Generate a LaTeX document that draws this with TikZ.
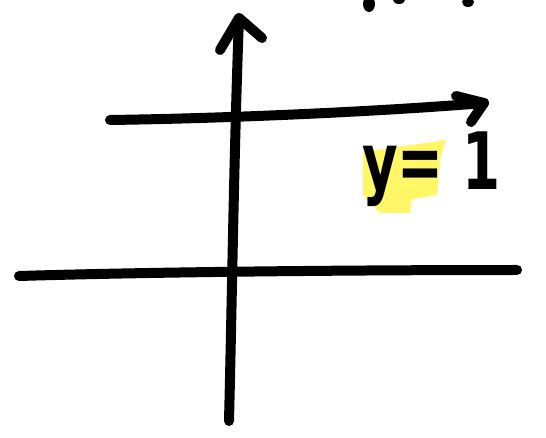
\documentclass[tikz,border=0pt]{standalone}
\usepackage{fontspec}
\newfontfamily\handfont{DejaVu Sans}
\tikzset{
  pen/.style={line width=10pt, line cap=round, line join=round, black},
  hilite/.style={fill=yellow!60, draw=none},
  blob/.style={fill=black, draw=none},
  label/.style={font=\handfont\bfseries\fontsize{72}{72}\selectfont, inner sep=0pt, xscale=0.76, yscale=1.1}
}
\begin{document}
\begin{tikzpicture}[x=1pt,y=-1pt]
\useasboundingbox (0,0) rectangle (546,438);
% yellow highlight
\fill[hilite] (363,152) -- (446,140) -- (440,160) -- (437,195) -- (412,199) -- (410,213) -- (380,213) -- (363,195) -- cycle;
% cut-off marks at top
\fill[blob] (369,4) ellipse (6 and 8);
\fill[blob] (399,0) ellipse (6 and 4);
\fill[blob] (468,2) ellipse (6 and 5);
% vertical axis
\coordinate (vbot) at (229,421);
\coordinate (vtop) at (239,18);
\coordinate (vl) at (220,50);
\coordinate (vr) at (262,38);
\draw[pen] (vbot) .. controls (232,300) and (234,150) .. (vtop);
\draw[pen] (vl) -- (vtop) -- (vr);
% upper horizontal axis with arrow
\coordinate (hl) at (110,120);
\coordinate (hr) at (484,103);
\coordinate (hu) at (456,96);
\coordinate (hd) at (471,122);
\draw[pen] (hl) .. controls (250,118) and (400,110) .. (hr);
\draw[pen] (hu) -- (hr) -- (hd);
% lower horizontal line
\coordinate (gl) at (19,276);
\coordinate (gr) at (517,270);
\draw[pen] (gl) .. controls (150,272) and (350,270) .. (gr);
% label
\node[label, anchor=base west] (lab) at (362,190) {y= 1};
\end{tikzpicture}
\end{document}
